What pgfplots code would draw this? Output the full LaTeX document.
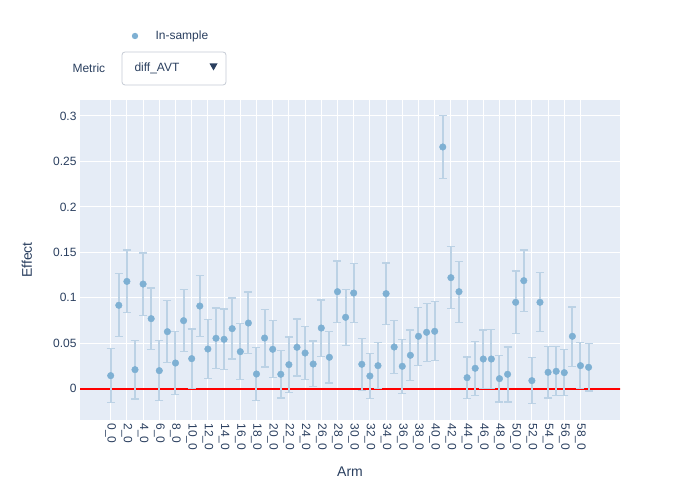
\documentclass[border=0pt]{standalone}
\usepackage{pgfplots}
\pgfplotsset{compat=1.18}
\usepackage{pgfplotstable}
\usepackage{fontspec}
\setmainfont{Liberation Sans}
\definecolor{bgcol}{HTML}{E5ECF6}
\definecolor{txtcol}{HTML}{2A3F5F}
\definecolor{mkcol}{RGB}{126,176,211}
\definecolor{errcol}{RGB}{188,210,229}
\definecolor{boxcol}{RGB}{196,202,212}

% arm index, effect, lower and upper end of the interval
\pgfplotstableread{
x y lo hi
0 0.0143 -0.0150 0.0440
1 0.0917 0.0572 0.1265
2 0.1180 0.0840 0.1525
3 0.0209 -0.0114 0.0532
4 0.1151 0.0803 0.1492
5 0.0770 0.0429 0.1110
6 0.0198 -0.0132 0.0532
7 0.0627 0.0286 0.0968
8 0.0282 -0.0062 0.0627
9 0.0748 0.0407 0.1089
10 0.0330 0.0000 0.0656
11 0.0909 0.0572 0.1243
12 0.0436 0.0110 0.0759
13 0.0554 0.0224 0.0887
14 0.0543 0.0209 0.0876
15 0.0660 0.0326 0.0997
16 0.0407 0.0099 0.0719
17 0.0722 0.0385 0.1063
18 0.0161 -0.0132 0.0451
19 0.0557 0.0238 0.0869
20 0.0433 0.0121 0.0748
21 0.0158 -0.0103 0.0422
22 0.0264 -0.0040 0.0568
23 0.0455 0.0139 0.0766
24 0.0392 0.0099 0.0682
25 0.0271 0.0026 0.0524
26 0.0667 0.0356 0.0975
27 0.0345 0.0062 0.0627
28 0.1067 0.0730 0.1404
29 0.0785 0.0477 0.1089
30 0.1052 0.0726 0.1379
31 0.0268 -0.0022 0.0550
32 0.0139 -0.0110 0.0389
33 0.0253 0.0000 0.0506
34 0.1045 0.0708 0.1382
35 0.0458 0.0165 0.0748
36 0.0246 -0.0051 0.0539
37 0.0367 0.0088 0.0645
38 0.0576 0.0253 0.0895
39 0.0620 0.0301 0.0939
40 0.0631 0.0308 0.0957
41 0.2659 0.2314 0.3003
42 0.1221 0.0884 0.1562
43 0.1067 0.0730 0.1397
44 0.0121 -0.0110 0.0348
45 0.0224 -0.0077 0.0521
46 0.0326 0.0000 0.0645
47 0.0326 0.0000 0.0649
48 0.0110 -0.0147 0.0363
49 0.0158 -0.0147 0.0458
50 0.0950 0.0609 0.1294
51 0.1188 0.0851 0.1525
52 0.0088 -0.0165 0.0345
53 0.0950 0.0627 0.1276
54 0.0180 -0.0103 0.0462
55 0.0191 -0.0077 0.0462
56 0.0176 -0.0077 0.0429
57 0.0576 0.0246 0.0898
58 0.0253 0.0000 0.0510
59 0.0235 -0.0026 0.0495
}\armdata

\begin{document}
\begin{tikzpicture}[font=\fontsize{12pt}{14pt}\selectfont]
\path (0pt,0pt) rectangle (700pt,500pt);
\begin{axis}[
  at={(80pt,80pt)}, anchor=south west,
  scale only axis, width=540pt, height=320pt,
  xmin=-3.79, xmax=62.88, ymin=-0.0345, ymax=0.3176,
  axis background/.style={fill=bgcol},
  axis line style={draw=none},
  tick style={draw=none},
  grid=major, major grid style={white, line width=1pt},
  xtick={0,2,...,58},
  xticklabels={0\_0,2\_0,4\_0,6\_0,8\_0,10\_0,12\_0,14\_0,16\_0,18\_0,20\_0,22\_0,24\_0,26\_0,28\_0,30\_0,32\_0,34\_0,36\_0,38\_0,40\_0,42\_0,44\_0,46\_0,48\_0,50\_0,52\_0,54\_0,56\_0,58\_0},
  xticklabel style={rotate=-90, anchor=west, text=txtcol, font=\fontsize{12pt}{14pt}\selectfont},
  ytick={0,0.05,0.1,0.15,0.2,0.25,0.3},
  yticklabels={0,0.05,0.1,0.15,0.2,0.25,0.3},
  yticklabel style={text=txtcol, font=\fontsize{12pt}{14pt}\selectfont},
  xtick pos=bottom, ytick pos=left,
]
\addplot[red, line width=2pt] coordinates {(-10,0) (70,0)};
\addplot[only marks, mark=*, mark size=3.3pt, mark options={draw=mkcol, fill=mkcol},
  error bars/.cd, y dir=both, y explicit,
  error bar style={errcol, line width=2pt},
  error mark options={errcol, rotate=90, mark size=4pt, line width=1.5pt}]
  table[x=x, y=y, y error plus expr=\thisrow{hi}-\thisrow{y}, y error minus expr=\thisrow{y}-\thisrow{lo}] {\armdata};
\end{axis}
\node[text=txtcol, font=\fontsize{14pt}{16pt}\selectfont] at (350pt,28pt) {Arm};
\node[text=txtcol, font=\fontsize{14pt}{16pt}\selectfont, rotate=90] at (27pt,240pt) {Effect};
% legend and metric selector
\fill[mkcol] (135pt,464pt) circle (3.2pt);
\node[text=txtcol, anchor=west] at (152pt,464pt) {In-sample};
\node[text=txtcol, anchor=west] at (69pt,432pt) {Metric};
\draw[boxcol, line width=0.8pt, rounded corners=3pt] (122pt,415pt) rectangle (226pt,448pt);
\node[text=txtcol, anchor=west] at (131pt,432pt) {diff\_AVT};
\fill[txtcol] (209.5pt,436.5pt) -- (217.5pt,436.5pt) -- (213.5pt,429.5pt) -- cycle;
\end{tikzpicture}
\end{document}
